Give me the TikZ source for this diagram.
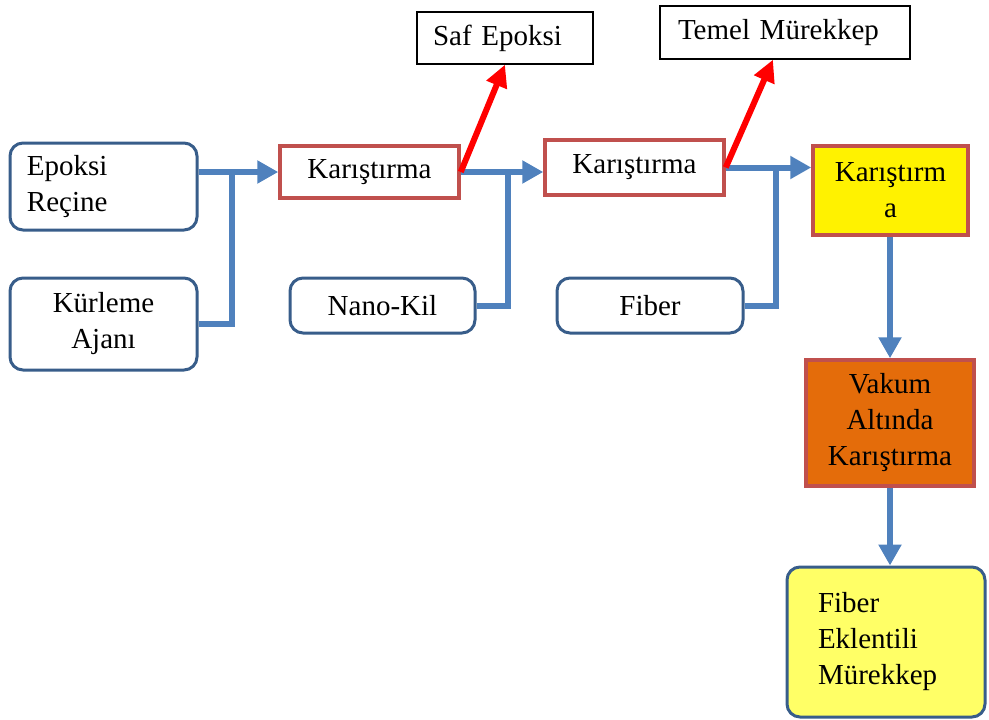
\documentclass[tikz,border=0pt]{standalone}
\usepackage{fontspec}
\setmainfont{Liberation Serif}
\usetikzlibrary{arrows.meta}
\definecolor{boxblue}{HTML}{385D8A}
\definecolor{boxred}{HTML}{C0504D}
\definecolor{lineblue}{HTML}{4F81BD}
\definecolor{arrred}{HTML}{FF0000}
\definecolor{orangefill}{HTML}{E46C0A}
\definecolor{lightyellow}{HTML}{FFFF66}
\tikzset{
  every node/.style={font=\fontsize{29}{36}\selectfont, inner sep=0pt},
  bluebox/.style={draw=boxblue, line width=3pt, rounded corners=13pt, fill=white, align=center},
  redbox/.style={draw=boxred, line width=3.5pt, fill=white, align=center},
  blackbox/.style={draw=black, line width=1.3pt, fill=white, align=left},
  flow/.style={draw=lineblue, line width=6pt, line join=miter},
  flowarrow/.style={flow, -{Triangle[length=21pt,width=22pt]}},
  redarrow/.style={draw=arrred, line width=6pt, -{Triangle[length=22pt,width=21pt]}},
}
\begin{document}
\begin{tikzpicture}[x=1pt,y=-1pt]
\useasboundingbox (0,0) rectangle (989,720);
% nodes
\node[bluebox, minimum width=187pt, minimum height=87pt, text width=153pt, inner xsep=17pt, align=left] (ep) at (103.5,186.5) {Epoksi\\Reçine};
\node[bluebox, minimum width=187pt, minimum height=92pt] (ku) at (103.5,324) {Kürleme\\Ajanı};
\node[redbox, minimum width=179pt, minimum height=52pt] (k1) at (369.5,172) {Karıştırma};
\node[blackbox, minimum width=176pt, minimum height=52pt, text width=144pt, inner xsep=16pt] (saf) at (505,38) {Saf Epoksi};
\node[bluebox, minimum width=185pt, minimum height=55pt] (nano) at (382.5,305.5) {Nano-Kil};
\node[redbox, minimum width=179pt, minimum height=55pt] (k2) at (634.5,167.5) {Karıştırma};
\node[blackbox, minimum width=250pt, minimum height=53pt, text width=214pt, inner xsep=18pt] (tm) at (785,32.5) {Temel Mürekkep};
\node[bluebox, minimum width=186pt, minimum height=55pt] (fib) at (650,305.5) {Fiber};
\node[redbox, fill=yellow, minimum width=155pt, minimum height=89pt] (k3) at (890.5,190.5) {Karıştırm\\a};
\node[redbox, fill=orangefill, minimum width=168pt, minimum height=126pt] (vak) at (890,423) {Vakum\\Altında\\Karıştırma};
\node[bluebox, fill=lightyellow, minimum width=198pt, minimum height=150pt, text width=136pt, inner xsep=31pt, align=left] (fe) at (886,642) {Fiber\\Eklentili\\Mürekkep};
% junction coordinates
\coordinate (j1) at (232,172);
\coordinate (j2) at (508,172);
\coordinate (j3) at (776,167.5);
% connectors
\draw[flowarrow] (ep.east |- k1.west) -- (k1.west);
\draw[flow] (ku.east) -| (j1);
\draw[flowarrow] (k1.east) -- (k1.east -| k2.west);
\draw[flow] (nano.east) -| (j2);
\draw[flowarrow] (k2.east) -- (k2.east -| k3.west);
\draw[flow] (fib.east) -| (j3);
\draw[flowarrow] (k3.south -| vak.north) -- (vak.north);
\draw[flowarrow] (vak.south) -- (vak.south |- fe.north);
\draw[redarrow] (k1.east) -- (saf.south);
\draw[redarrow] (k2.east) -- ([xshift=-12pt]tm.south);
\end{tikzpicture}
\end{document}
